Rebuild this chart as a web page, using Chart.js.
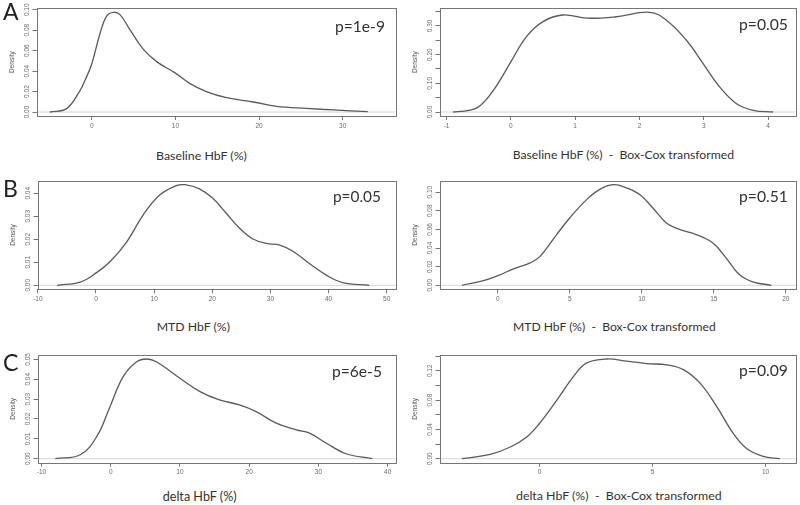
<!DOCTYPE html>
<html><head><meta charset="utf-8">
<script src="https://cdn.jsdelivr.net/npm/chart.js@4.4.1/dist/chart.umd.min.js"></script>
<style>
html,body{margin:0;padding:0;background:#fff;}
#wrap{position:relative;width:800px;height:505px;overflow:hidden;background:#fff;}
#wrap canvas{position:absolute;}
.t{position:absolute;white-space:pre;line-height:1.2;font-family:Lato,"Open Sans",sans-serif;color:#333;}
</style></head><body><div id="wrap"></div>
<script>
// ---------- data ----------
const baselineX = [-5, -3, -1.4, -0.8, 0, 1, 1.8, 2.6, 3.4, 4.6, 6.2, 7.8, 10, 11.7, 13.7, 16.1, 19.3, 22.1, 25.7, 28.9, 33];
const baselineY = [0, 0.0033, 0.021, 0.031, 0.047, 0.077, 0.094, 0.0975, 0.095, 0.080, 0.061, 0.049, 0.038, 0.028, 0.020, 0.014, 0.0098, 0.0055, 0.0035, 0.002, 0.0004];

const boxcoxBaselineX = [-0.9, -0.7, -0.5, -0.27, 0, 0.24, 0.5, 0.81, 1.18, 1.64, 2.16, 2.42, 2.73, 2.99, 3.25, 3.51, 3.77, 4.08];
const boxcoxBaselineY = [0, 0.004, 0.018, 0.076, 0.175, 0.262, 0.315, 0.338, 0.327, 0.332, 0.3475, 0.32, 0.25, 0.169, 0.087, 0.029, 0.006, 0];

const mtdX = [-6.7, -2.7, 0.1, 2.4, 5.3, 8.1, 11, 13.8, 15.3, 17.8, 20.1, 22.4, 24.7, 27, 29.3, 31.6, 33.8, 36.7, 39.6, 42.4, 47];
const mtdY = [0, 0.0014, 0.0055, 0.0102, 0.0189, 0.0305, 0.0393, 0.0433, 0.0437, 0.0419, 0.0378, 0.0313, 0.0248, 0.0201, 0.0182, 0.0175, 0.0149, 0.0095, 0.0044, 0.0012, 0];

const boxcoxMtdX = [-2.5, -1, 0, 1.08, 2.24, 2.93, 4.08, 5, 6.16, 7.08, 8, 8.93, 9.85, 10.77, 11.7, 12.62, 13.77, 14.92, 15.85, 16.77, 17.7, 19];
const boxcoxMtdY = [0, 0.005, 0.0104, 0.0176, 0.024, 0.031, 0.0545, 0.0725, 0.092, 0.103, 0.108, 0.1047, 0.0975, 0.083, 0.067, 0.060, 0.0545, 0.0456, 0.0295, 0.0115, 0.0037, 0];

const deltaX = [-8, -4.4, -2, -0.1, 1.8, 3.75, 5.2, 6.6, 10, 12.9, 15.7, 18.6, 21, 23.9, 26.8, 28.7, 31.1, 34, 37.8];
const deltaY = [0, 0.002, 0.0112, 0.0262, 0.0413, 0.0488, 0.0502, 0.0488, 0.0405, 0.0338, 0.0296, 0.0271, 0.0237, 0.0179, 0.0145, 0.0129, 0.0079, 0.0025, 0];

const boxcoxDeltaX = [-3.43, -2.18, -1.29, -0.56, 0, 0.77, 1.5, 2.09, 2.98, 3.86, 4.74, 5.63, 6.36, 7.1, 7.84, 8.57, 9.16, 9.89, 10.63];
const boxcoxDeltaY = [0, 0.0059, 0.016, 0.0297, 0.048, 0.08, 0.112, 0.1306, 0.136, 0.133, 0.1297, 0.128, 0.1215, 0.103, 0.071, 0.0344, 0.0138, 0.0032, 0];

// ---------- ticks ----------
const baselineXTicks = [0, 10, 20, 30];
const baselineYTicks = [0, 0.02, 0.04, 0.06, 0.08, 0.10];
const baselineYLabels = ['0.00', '0.02', '0.04', '0.06', '0.08', '0.10'];

const boxcoxBaselineXTicks = [-1, 0, 1, 2, 3, 4];
const boxcoxBaselineYTicks = [0, 0.05, 0.10, 0.15, 0.20, 0.25, 0.30, 0.35];
const boxcoxBaselineYLabels = ['0.00', '', '0.10', '', '0.20', '', '0.30', ''];

const mtdXTicks = [-10, 0, 10, 20, 30, 40, 50];
const mtdYTicks = [0, 0.01, 0.02, 0.03, 0.04];
const mtdYLabels = ['0.00', '0.01', '0.02', '0.03', '0.04'];

const boxcoxMtdXTicks = [0, 5, 10, 15, 20];
const boxcoxMtdYTicks = [0, 0.02, 0.04, 0.06, 0.08, 0.10];
const boxcoxMtdYLabels = ['0.00', '0.02', '0.04', '0.06', '0.08', '0.10'];

const deltaXTicks = [-10, 0, 10, 20, 30, 40];
const deltaYTicks = [0, 0.01, 0.02, 0.03, 0.04, 0.05];
const deltaYLabels = ['0.00', '0.01', '0.02', '0.03', '0.04', '0.05'];

const boxcoxDeltaXTicks = [0, 5, 10];
const boxcoxDeltaYTicks = [0, 0.02, 0.04, 0.06, 0.08, 0.10, 0.12, 0.14];
const boxcoxDeltaYLabels = ['0.00', '', '0.04', '', '0.08', '', '0.12', ''];

// ---------- texts ----------
const panelLetters = ['A', 'B', 'C'];
const pValues = ['p=1e-9', 'p=0.05', 'p=0.05', 'p=0.51', 'p=6e-5', 'p=0.09'];
const xTitles = ['Baseline HbF (%)', 'Baseline HbF (%)  -  Box-Cox transformed',
                 'MTD HbF (%)', 'MTD HbF (%)  -  Box-Cox transformed',
                 'delta HbF (%)', 'delta HbF (%)  -  Box-Cox transformed'];

// ---------- layout ----------
const wrap = document.getElementById('wrap');
const panels = [
  {xs: baselineX, ys: baselineY, xt: baselineXTicks, yt: baselineYTicks, yl: baselineYLabels, xmin: -6.6, xmax: 36.33,
   cv: {l: 0, t: 0, w: 400, h: 140}, box: {l: 36.5, t: 8.3, r: 395.7, b: 116}},
  {xs: boxcoxBaselineX, ys: boxcoxBaselineY, xt: boxcoxBaselineXTicks, yt: boxcoxBaselineYTicks, yl: boxcoxBaselineYLabels, xmin: -1.11, xmax: 4.43,
   cv: {l: 400, t: 0, w: 400, h: 140}, box: {l: 439.5, t: 8.3, r: 795.7, b: 116}},
  {xs: mtdX, ys: mtdY, xt: mtdXTicks, yt: mtdYTicks, yl: mtdYLabels, xmin: -10.06, xmax: 51.55,
   cv: {l: 0, t: 170, w: 400, h: 140}, box: {l: 37.5, t: 180.7, r: 395.7, b: 289.3}},
  {xs: boxcoxMtdX, ys: boxcoxMtdY, xt: boxcoxMtdXTicks, yt: boxcoxMtdYTicks, yl: boxcoxMtdYLabels, xmin: -4.06, xmax: 20.69,
   cv: {l: 400, t: 170, w: 400, h: 140}, box: {l: 439.5, t: 180.7, r: 795.7, b: 289.3}},
  {xs: deltaX, ys: deltaY, xt: deltaXTicks, yt: deltaYTicks, yl: deltaYLabels, xmin: -10.57, xmax: 41.16,
   cv: {l: 0, t: 345, w: 400, h: 140}, box: {l: 37.5, t: 355, r: 395.7, b: 462.7}},
  {xs: boxcoxDeltaX, ys: boxcoxDeltaY, xt: boxcoxDeltaXTicks, yt: boxcoxDeltaYTicks, yl: boxcoxDeltaYLabels, xmin: -4.42, xmax: 11.33,
   cv: {l: 400, t: 345, w: 400, h: 140}, box: {l: 439.5, t: 355, r: 795.7, b: 462.7}}
];

const AXIS = '#767676';
const TICKTXT = '#6a6a6a';
const SMALLFONT = '"Liberation Sans", Arial, sans-serif';

panels.forEach((p) => {
  const c = document.createElement('canvas');
  c.width = p.cv.w; c.height = p.cv.h;
  c.style.left = p.cv.l + 'px'; c.style.top = p.cv.t + 'px';
  c.style.width = p.cv.w + 'px'; c.style.height = p.cv.h + 'px';
  wrap.appendChild(c);
  const leftW = p.box.l - p.cv.l;
  const padTop = p.box.t - p.cv.t;
  const padRight = p.cv.l + p.cv.w - p.box.r;
  const bottomH = p.cv.t + p.cv.h - p.box.b;
  const peak = Math.max(...p.ys);
  const ymax = peak * 1.04, ymin = -peak * 0.04;

  const decor = {
    id: 'decor',
    afterDraw(chart) {
      const {ctx, chartArea: a} = chart;
      const ys = chart.scales.y;
      ctx.save();
      ctx.strokeStyle = AXIS; ctx.lineWidth = 1;
      ctx.strokeRect(Math.round(a.left) + 0.5, Math.round(a.top) + 0.5,
                     Math.round(a.right) - Math.round(a.left), Math.round(a.bottom) - Math.round(a.top));
      ctx.fillStyle = TICKTXT;
      ctx.font = '6.5px ' + SMALLFONT;
      ctx.textAlign = 'center'; ctx.textBaseline = 'middle';
      ys.ticks.forEach((t, i) => {
        const lab = p.yl[i];
        if (!lab) return;
        const y = ys.getPixelForValue(t.value);
        ctx.save();
        ctx.translate(a.left - 9.5, y);
        ctx.rotate(-Math.PI / 2);
        ctx.fillText(lab, 0, 0);
        ctx.restore();
      });
      ctx.fillStyle = '#555';
      ctx.save();
      ctx.translate(a.left - 24, (a.top + a.bottom) / 2);
      ctx.rotate(-Math.PI / 2);
      ctx.fillText('Density', 0, 0);
      ctx.restore();
      ctx.restore();
    }
  };

  new Chart(c, {
    type: 'line',
    data: {
      datasets: [
        {data: p.xs.map((x, i) => ({x: x, y: p.ys[i]})), borderColor: '#5a5a5a', borderWidth: 1.3,
         pointRadius: 0, tension: 0.4, fill: false},
        {data: [{x: p.xmin, y: 0}, {x: p.xmax, y: 0}], borderColor: '#d6d6d6', borderWidth: 1, pointRadius: 0, fill: false}
      ]
    },
    options: {
      responsive: false, animation: false, devicePixelRatio: 1,
      layout: {padding: {top: padTop, right: padRight, left: 0, bottom: 0}},
      plugins: {legend: {display: false}, tooltip: {enabled: false}},
      events: [],
      scales: {
        x: {
          type: 'linear', min: p.xmin, max: p.xmax,
          afterBuildTicks: (s) => { s.ticks = p.xt.map(v => ({value: v})); },
          afterFit: (s) => { s.height = bottomH; },
          grid: {drawOnChartArea: false, drawTicks: true, tickLength: 4, color: AXIS, lineWidth: 1},
          border: {display: false},
          ticks: {autoSkip: false, maxRotation: 0, minRotation: 0, padding: 2, color: TICKTXT,
                  font: {family: SMALLFONT, size: 6.5}, callback: (v) => String(v)}
        },
        y: {
          type: 'linear', min: ymin, max: ymax,
          afterBuildTicks: (s) => { s.ticks = p.yt.map(v => ({value: v})); },
          afterFit: (s) => { s.width = leftW; },
          grid: {drawOnChartArea: false, drawTicks: true, tickLength: 4, color: AXIS, lineWidth: 1},
          border: {display: false},
          ticks: {display: false}
        }
      }
    },
    plugins: [decor]
  });
});

function addText(str, left, baseline, size, width, color) {
  const d = document.createElement('div');
  d.className = 't';
  d.style.left = left + 'px'; d.style.top = '0px';
  d.style.fontSize = size + 'px';
  if (color) d.style.color = color;
  d.appendChild(document.createTextNode(str));
  const m = document.createElement('span');
  m.style.cssText = 'display:inline-block;width:0;height:0;vertical-align:baseline;';
  d.appendChild(m);
  wrap.appendChild(d);
  if (width) {
    const w = d.getBoundingClientRect().width;
    d.style.fontSize = (size * width / w) + 'px';
  }
  const b = m.offsetTop;
  d.style.top = (baseline - b) + 'px';
}

// panel letters
const letterPos = [[3, 20], [3, 196.5], [3, 371]];
panelLetters.forEach((s, i) => addText(s, letterPos[i][0], letterPos[i][1], 23, 0, '#222'));
// p-values
const pPos = [[335, 31.5, 50], [739, 29.5, 49], [333, 201.5, 48], [739, 201.5, 49], [332, 376.5, 50], [739, 375.5, 49]];
pValues.forEach((s, i) => addText(s, pPos[i][0], pPos[i][1], 16, pPos[i][2], '#333'));
// x titles
const tPos = [[156, 159.5, 91], [512.7, 159, 221.6], [156.7, 331, 73.3], [513, 331, 203], [162.7, 500.5, 74], [516, 500, 205.7]];
xTitles.forEach((s, i) => addText(s, tPos[i][0], tPos[i][1], 13, tPos[i][2], '#333'));
</script>
</body></html>
